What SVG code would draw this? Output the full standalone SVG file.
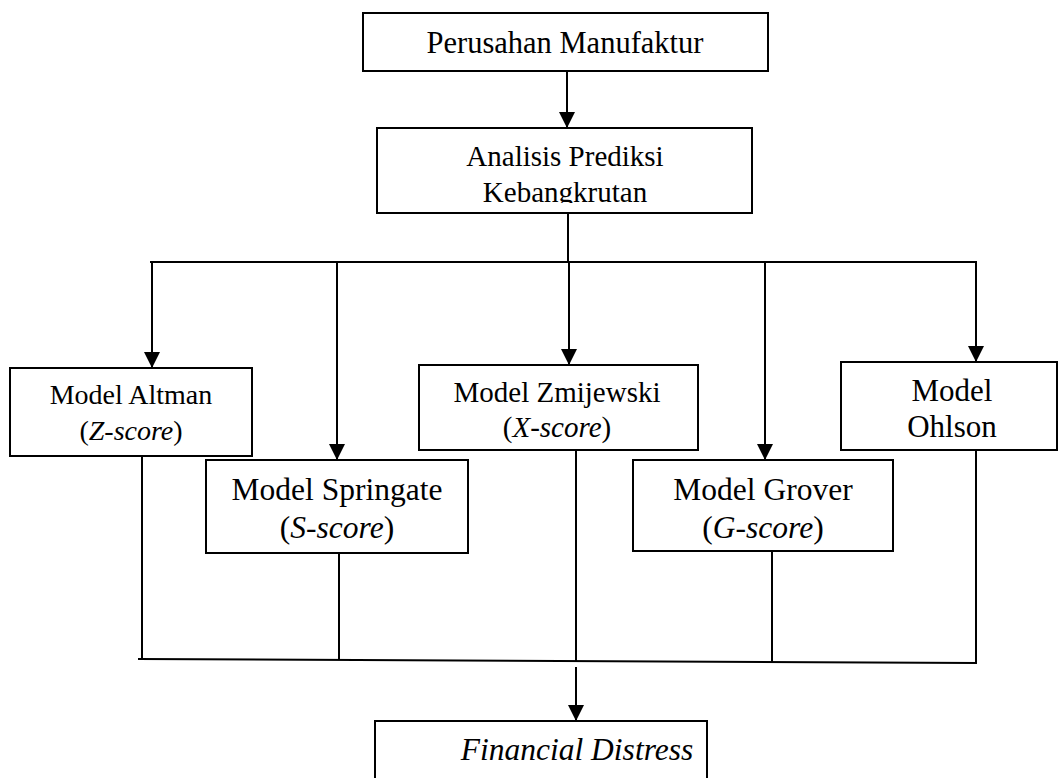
<svg xmlns="http://www.w3.org/2000/svg" width="1059" height="778" viewBox="0 0 1059 778">
<style>
.box{fill:#fff;stroke:#000;stroke-width:2}
.ln{fill:none;stroke:#000;stroke-width:2}
text{font-family:"Liberation Serif","Times New Roman",serif;fill:#000;text-anchor:middle}
.i{font-style:italic}
</style>
<defs>
<marker id="ah" markerUnits="userSpaceOnUse" markerWidth="16" markerHeight="16" viewBox="0 0 16 16" refX="16" refY="8" orient="auto">
<path d="M0,0 L16,8 L0,16 Z" fill="#000"/>
</marker>
<clipPath id="c2"><rect x="378" y="129" width="373" height="74"/></clipPath>
</defs>
<rect width="1059" height="778" fill="#fff"/>
<g id="connectors">
<line class="ln" x1="567" y1="71" x2="567" y2="128" marker-end="url(#ah)"/>
<line class="ln" x1="568" y1="213" x2="568" y2="262"/>
<line class="ln" x1="150" y1="262" x2="977" y2="262"/>
<line class="ln" x1="152" y1="262" x2="152" y2="368" marker-end="url(#ah)"/>
<line class="ln" x1="337" y1="262" x2="337" y2="460" marker-end="url(#ah)"/>
<line class="ln" x1="569" y1="262" x2="569" y2="365" marker-end="url(#ah)"/>
<line class="ln" x1="765" y1="262" x2="765" y2="460" marker-end="url(#ah)"/>
<line class="ln" x1="976" y1="262" x2="976" y2="362" marker-end="url(#ah)"/>
<line class="ln" x1="142" y1="456" x2="142" y2="659"/>
<line class="ln" x1="339" y1="553" x2="339" y2="660"/>
<line class="ln" x1="576" y1="450" x2="576" y2="661"/>
<line class="ln" x1="772" y1="551" x2="772" y2="662"/>
<line class="ln" x1="976" y1="450" x2="976" y2="664"/>
<line class="ln" x1="138" y1="659" x2="977" y2="663"/>
<line class="ln" x1="576" y1="667" x2="576" y2="721" marker-end="url(#ah)"/>
</g>
<g id="n-perusahan">
<rect class="box" x="363" y="13" width="405" height="58"/>
<text x="565" y="53" font-size="30.5">Perusahan Manufaktur</text>
</g>
<g id="n-analisis">
<rect class="box" x="377" y="128" width="375" height="85"/>
<g clip-path="url(#c2)">
<text x="565" y="166" font-size="29">Analisis Prediksi</text>
<text x="565" y="202" font-size="29">Kebangkrutan</text>
</g>
</g>
<g id="n-altman">
<rect class="box" x="10" y="368" width="242" height="88"/>
<text x="131" y="404" font-size="28">Model Altman</text>
<text x="131" y="440" font-size="28">(<tspan class="i">Z-score</tspan>)</text>
</g>
<g id="n-springate">
<rect class="box" x="206" y="460" width="262" height="93"/>
<text x="337" y="500" font-size="31.5">Model Springate</text>
<text x="337" y="538" font-size="31.5">(<tspan class="i">S-score</tspan>)</text>
</g>
<g id="n-zmijewski">
<rect class="box" x="419" y="365" width="279" height="85"/>
<text x="557" y="402" font-size="29">Model Zmijewski</text>
<text x="557" y="437" font-size="29">(<tspan class="i">X-score</tspan>)</text>
</g>
<g id="n-grover">
<rect class="box" x="633" y="460" width="260" height="91"/>
<text x="763" y="500" font-size="31.5">Model Grover</text>
<text x="763" y="538" font-size="31.5">(<tspan class="i">G-score</tspan>)</text>
</g>
<g id="n-ohlson">
<rect class="box" x="841" y="362" width="216" height="88"/>
<text x="952" y="401" font-size="31">Model</text>
<text x="952" y="437" font-size="31">Ohlson</text>
</g>
<g id="n-distress">
<rect class="box" x="375" y="721" width="332" height="70"/>
<text class="i" x="577" y="760" font-size="31.5">Financial Distress</text>
</g>
</svg>
